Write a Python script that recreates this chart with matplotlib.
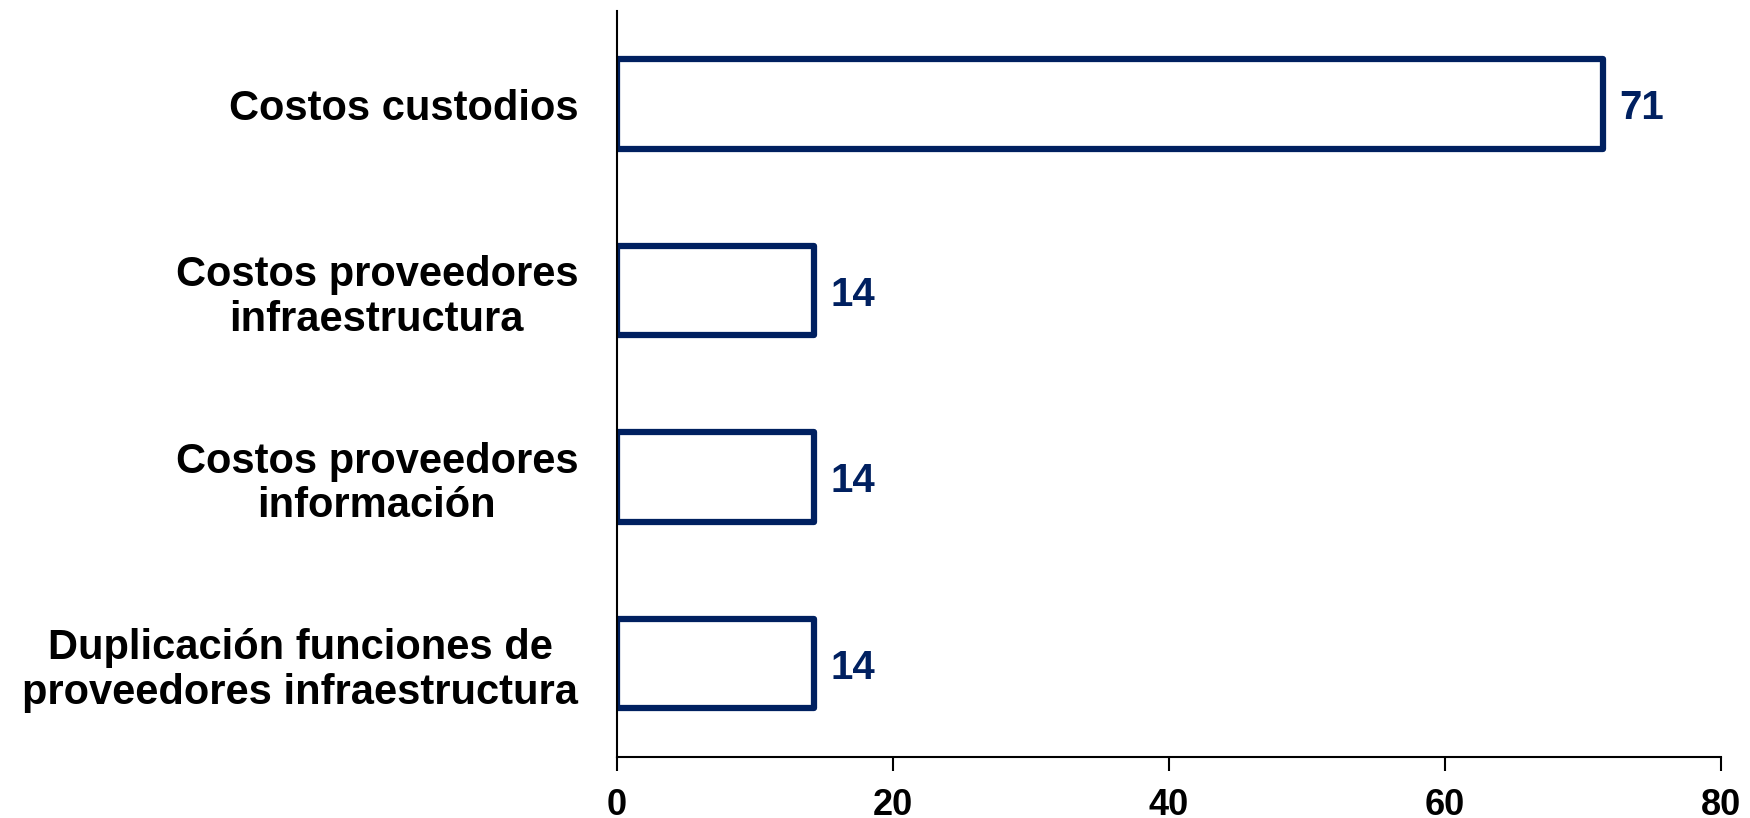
import matplotlib
matplotlib.use("Agg")
import matplotlib.pyplot as plt

categories = ["Costos custodios",
              "Costos proveedores\ninfraestructura",
              "Costos proveedores\ninformación",
              "Duplicación funciones de\nproveedores infraestructura"]
values = [71.43, 14.29, 14.29, 14.29]
value_labels = ["71", "14", "14", "14"]
xticks = [0, 20, 40, 60, 80]

navy = "#002060"
plt.rcParams['font.family'] = ['Liberation Sans', 'DejaVu Sans']

fig = plt.figure(figsize=(17.5, 8.18), dpi=100)
ax = fig.add_axes([0.3526, 0.0746, 0.6308, 0.912])

ypos = list(range(len(categories)))
bars = ax.barh(ypos, values, height=0.48, color="white", edgecolor=navy,
               linewidth=4.5)
for b in bars:
    b.set_joinstyle('round')

for y, v, lab in zip(ypos, values, value_labels):
    ax.annotate(lab, xy=(v, y), xytext=(12, -3), textcoords='offset points',
                va='center', ha='left', color=navy,
                fontsize=29, fontweight='bold')

ax.set_xlim(0, 80)
ax.set_ylim(3.5, -0.5)
ax.set_xticks(xticks)
ax.set_xticklabels([str(t) for t in xticks], fontsize=26, fontweight='bold')
ax.set_yticks(ypos)
ax.set_yticklabels(categories, fontsize=30, fontweight='bold')
for lab in ax.get_yticklabels():
    lab.set_multialignment('center')
    lab.set_linespacing(1.15)

ax.tick_params(axis='y', length=0, pad=28)
ax.tick_params(axis='x', length=10, width=1.5, direction='out', pad=12)
ax.spines['top'].set_visible(False)
ax.spines['right'].set_visible(False)
ax.spines['left'].set_linewidth(1.5)
ax.spines['bottom'].set_linewidth(1.5)

fig.savefig("out.png", dpi=100)
